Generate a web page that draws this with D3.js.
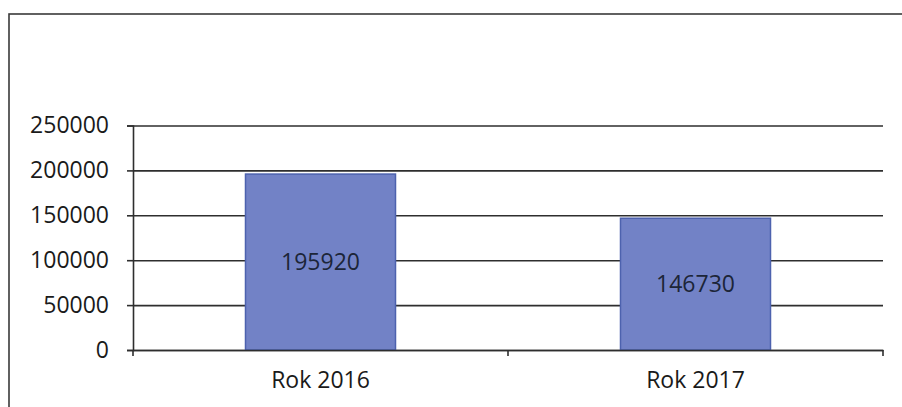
<!DOCTYPE html>
<html><head><meta charset="utf-8">
<script src="https://cdn.jsdelivr.net/npm/d3@7"></script>
<style>body{margin:0;background:#fff}svg{display:block}</style>
</head><body>
<script>
const categories = ["Rok 2016", "Rok 2017"];
const values = [195920, 146730];
const yTicks = [0, 50000, 100000, 150000, 200000, 250000];

const W = 902, H = 407;
const svg = d3.select("body").append("svg").attr("width", W).attr("height", H);
const font = "'Open Sans', sans-serif";

// outer chart border
svg.append("rect").attr("x", 9).attr("y", 14).attr("width", 1000).attr("height", 500)
  .attr("fill", "none").attr("stroke", "#3a3a3a").attr("stroke-width", 1.6);

const x = d3.scaleBand().domain(categories).range([133, 883]).paddingInner(0.6).paddingOuter(0.3);
const y = d3.scaleLinear().domain([0, 250000]).range([350, 125.5]);

// gridlines + y ticks
const yAxis = d3.axisLeft(y).tickValues(yTicks).tickSize(6).tickPadding(18).tickFormat(d3.format("d"));
const gy = svg.append("g").attr("transform", "translate(133,0)").call(yAxis);
gy.select(".domain").attr("stroke", "#2e2e2e").attr("stroke-width", 1.6);
gy.selectAll(".tick line").attr("stroke", "#2e2e2e").attr("stroke-width", 1.6);
gy.selectAll(".tick text").attr("font-family", font).attr("font-size", 23).attr("fill", "#1a1a1a");
gy.selectAll(".tick").append("line").attr("x1", 0).attr("x2", 750)
  .attr("stroke", "#2e2e2e").attr("stroke-width", 1.6);

// bars
svg.selectAll("rect.bar").data(values).join("rect").attr("class", "bar")
  .attr("x", (d, i) => x(categories[i])).attr("width", x.bandwidth())
  .attr("y", d => y(d)).attr("height", d => y(0) - y(d))
  .attr("fill", "#7282c6").attr("stroke", "#4d62ae").attr("stroke-width", 1.5);

// value labels
svg.selectAll("text.val").data(values).join("text").attr("class", "val")
  .attr("x", (d, i) => x(categories[i]) + x.bandwidth() / 2)
  .attr("y", d => (y(d) + y(0)) / 2).attr("dy", "0.35em")
  .attr("text-anchor", "middle").attr("font-family", font).attr("font-size", 23)
  .attr("fill", "#1c2538").text(d => d);

// x axis
const xAxis = d3.axisBottom(x.copy().paddingInner(0).paddingOuter(0)).tickSize(0).tickPadding(22);
const gx = svg.append("g").attr("transform", "translate(0,350)").call(xAxis);
gx.select(".domain").attr("stroke", "#2e2e2e").attr("stroke-width", 1.6);
gx.selectAll(".tick text").attr("font-family", font).attr("font-size", 23).attr("fill", "#1a1a1a");
// category boundary ticks
const bounds = [133, ...categories.map(c => x(c) + x.bandwidth() / 2 + x.step() / 2)];
svg.selectAll("line.ct").data(bounds).join("line").attr("class", "ct")
  .attr("x1", d => d).attr("x2", d => d).attr("y1", 350).attr("y2", 356)
  .attr("stroke", "#2e2e2e").attr("stroke-width", 1.6);
</script>
</body></html>
